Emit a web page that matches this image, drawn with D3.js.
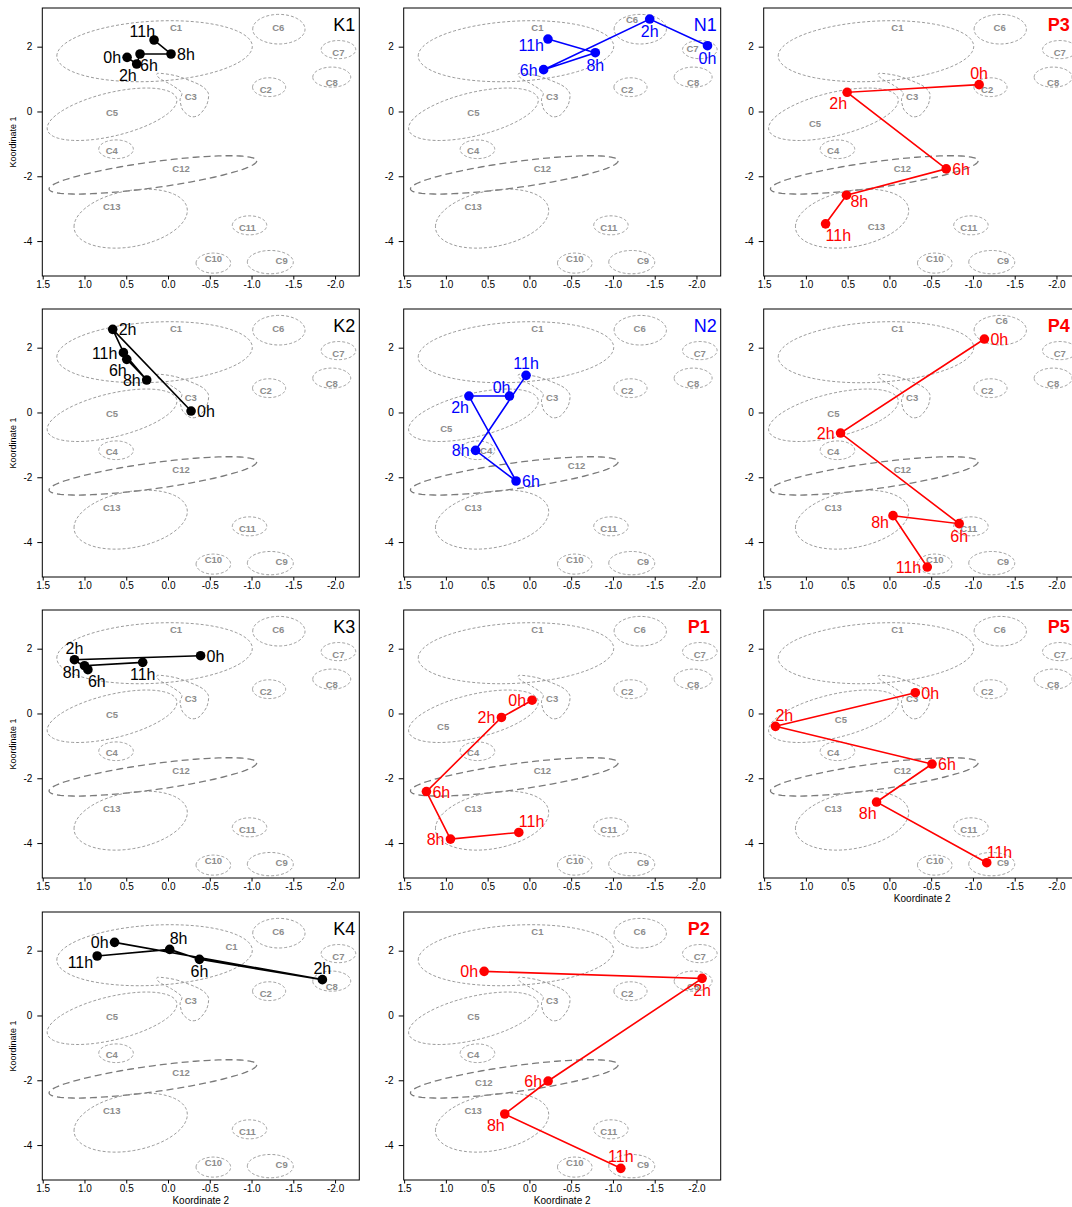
<!DOCTYPE html>
<html>
<head>
<meta charset="utf-8">
<script src="https://cdn.jsdelivr.net/npm/d3@7"></script>
<style>
  body { margin: 0; background: #fff; }
  svg { display: block; }
  text { font-family: "Liberation Sans", Arial, Helvetica, sans-serif; }
</style>
</head>
<body>
<svg id="chart" width="1072" height="1207"></svg>
<script>
// ---- Cluster regions in the MDS plane (x = Koordinate 2, y = Koordinate 1) ----
// Each region: centre plus two half-axis vectors (u, v) in data units.
const clusterNames = ["C1", "C2", "C4", "C5", "C6", "C7", "C8", "C9", "C10", "C11", "C12", "C13"];
const clusterCx    = [0.161, -1.21, 0.622, 0.670, -1.327, -2.04, -1.96, -1.225, -0.543, -0.976, 0.181, 0.447];
const clusterCy    = [1.86, 0.75, -1.166, -0.086, 2.54, 1.91, 1.06, -4.65, -4.68, -3.514, -1.957, -3.308];
const clusterUx    = [1.17, 0.198, 0.207, -0.774, 0.313, 0.207, 0.227, 0.275, 0.207, 0.206, -1.243, 0.678];
const clusterUy    = [-0.15, 0, 0, 0.483, 0, 0, 0, 0, 0, 0, 0.432, -0.25];
const clusterVx    = [0, 0, 0, 0.061, 0, 0, 0, 0, 0, 0, 0, 0];
const clusterVy    = [0.93, 0.29, 0.288, 0.650, 0.457, 0.28, 0.31, 0.36, 0.31, 0.293, -0.404, 0.875];
const clusterLabelX = [-0.096, -1.17, 0.674, 0.67, -1.32, -2.04, -1.96, -1.36, -0.543, -0.95, -0.156, 0.674];
const clusterLabelY = [2.60, 0.68, -1.217, -0.03, 2.60, 1.83, 0.89, -4.61, -4.53, -3.58, -1.75, -2.95];

// C3 is an irregular region, given as an outline
const c3OutlineX = [0.123, -0.104, -0.383, -0.483, -0.463, -0.372, -0.272, -0.176, -0.144, -0.164, -0.044, 0.103];
const c3OutlineY = [1.178, 1.096, 0.818, 0.561, 0.201, -0.107, -0.158, 0.047, 0.356, 0.582, 0.818, 1.024];
const c3LabelX = -0.272, c3LabelY = 0.458;

// Per-panel relocated region labels
const overridePanel   = ["N1", "N1", "N2", "N2", "N2", "P1", "P2", "P3", "P3", "P4", "P5", "K4"];
const overrideCluster = ["C6", "C7", "C5", "C12", "C4", "C5", "C12", "C5", "C13", "C6", "C5", "C1"];
const overrideX       = [-1.229, -1.952, 0.995, -0.564, 0.518, 1.033, 0.546, 0.891, 0.156, -1.344, 0.581, -0.76];
const overrideY       = [2.82, 1.93, -0.5, -1.632, -1.19, -0.41, -2.064, -0.384, -3.55, 2.82, -0.19, 2.11];

// ---- Trajectories: positions at 0h, 2h, 6h, 8h, 11h ----
const timeLabels = ["0h", "2h", "6h", "8h", "11h"];

const k1X = [0.490, 0.375, 0.335, -0.036, 0.167];
const k1Y = [1.671, 1.466, 1.774, 1.774, 2.206];
const k2X = [-0.276, 0.662, 0.494, 0.255, 0.534];
const k2Y = [0.045, 2.566, 1.640, 1.002, 1.846];
const k3X = [-0.390, 1.120, 0.959, 1.000, 0.303];
const k3Y = [1.784, 1.660, 1.352, 1.475, 1.578];
const k4X = [0.640, -1.848, -0.376, -0.020, 0.848];
const k4Y = [2.257, 1.106, 1.733, 2.040, 1.836];
const n1X = [-2.132, -1.440, -0.170, -0.789, -0.222];
const n1Y = [2.031, 2.853, 1.291, 1.815, 2.236];
const n2X = [0.239, 0.724, 0.160, 0.645, 0.040];
const n2Y = [0.508, 0.508, -2.115, -1.169, 1.146];
const p1X = [-0.032, 0.335, 1.233, 0.945, 0.127];
const p1Y = [0.410, -0.123, -2.410, -3.877, -3.672];
const p2X = [0.542, -2.067, -0.224, 0.295, -1.094];
const p2Y = [1.362, 1.146, -2.023, -3.041, -4.718];
const p3X = [-1.074, 0.506, -0.680, 0.514, 0.764];
const p3Y = [0.828, 0.592, -1.772, -2.584, -3.468];
const p4X = [-1.137, 0.585, -0.835, -0.043, -0.453];
const p4Y = [2.267, -0.634, -3.432, -3.185, -4.770];
const p5X = [-0.310, 1.364, -0.510, 0.154, -1.165];
const p5Y = [0.642, -0.397, -1.560, -2.733, -4.605];

// Where each time label sits relative to its point
const k1Lab = ["l", "bl", "br", "r", "al"];
const k2Lab = ["r", "r", "bl", "l", "l"];
const k3Lab = ["r", "a", "br", "lb", "b"];
const k4Lab = ["l", "a", "b", "ar", "lb"];
const n1Lab = ["b", "b", "l", "b", "lb"];
const n2Lab = ["al", "bl", "r", "l", "a"];
const p1Lab = ["l", "l", "r", "l", "ar"];
const p2Lab = ["l", "b", "l", "bl", "a"];
const p3Lab = ["a", "bl", "r", "rb", "br"];
const p4Lab = ["r", "l", "b", "lb", "l"];
const p5Lab = ["r", "ar", "r", "bl", "ar"];

// Panel order, row by row
const panelNames = ["K1", "N1", "P3", "K2", "N2", "P4", "K3", "P1", "P5", "K4", "P2"];
const panelSeries = {
  K1: [k1X, k1Y, k1Lab], K2: [k2X, k2Y, k2Lab], K3: [k3X, k3Y, k3Lab], K4: [k4X, k4Y, k4Lab],
  N1: [n1X, n1Y, n1Lab], N2: [n2X, n2Y, n2Lab],
  P1: [p1X, p1Y, p1Lab], P2: [p2X, p2Y, p2Lab], P3: [p3X, p3Y, p3Lab], P4: [p4X, p4Y, p4Lab], P5: [p5X, p5Y, p5Lab]
};

const xTicks = [1.5, 1.0, 0.5, 0.0, -0.5, -1.0, -1.5, -2.0];
const yTicks = [2, 0, -2, -4];

// ---- Layout ----
const colX = [42.3, 403.7, 763.7];
const rowY = [8, 309, 610, 912];
const W = 317, H = 268;

const x = d3.scaleLinear().domain([1.505, -2.29]).range([0, W]);
const y = d3.scaleLinear().domain([3.194, -5.078]).range([0, H]);

const groupColor = { K: "#000000", N: "#0000ff", P: "#ff0000" };

const labelPlacement = {
  l:  ["end",    -6,   6],
  r:  ["start",   6,   6],
  a:  ["middle",  0,  -6],
  b:  ["middle",  0,  18],
  al: ["end",     1,  -3],
  ar: ["start",   0,  -5],
  bl: ["end",     0,  17],
  br: ["start",   0,  17],
  lb: ["end",    -4,  12],
  rb: ["start",   4,  12]
};

const svg = d3.select("#chart");
svg.append("rect").attr("width", 1072).attr("height", 1207).attr("fill", "#fff");

const line = d3.line().x(d => x(d[0])).y(d => y(d[1]));
const closedLine = d3.line().x(d => x(d[0])).y(d => y(d[1])).curve(d3.curveLinearClosed);
const smoothClosed = d3.line().x(d => x(d[0])).y(d => y(d[1])).curve(d3.curveCardinalClosed.tension(0.2));

function ellipsePoints(i) {
  const pts = [];
  for (let k = 0; k < 120; k++) {
    const t = (k / 120) * 2 * Math.PI;
    pts.push([
      clusterCx[i] + clusterUx[i] * Math.cos(t) + clusterVx[i] * Math.sin(t),
      clusterCy[i] + clusterUy[i] * Math.cos(t) + clusterVy[i] * Math.sin(t)
    ]);
  }
  return pts;
}

panelNames.forEach((name, idx) => {
  const row = Math.floor(idx / 3), col = idx % 3;
  const g = svg.append("g").attr("transform", `translate(${colX[col]},${rowY[row]})`);
  const color = groupColor[name[0]];
  const [sx, sy, sl] = panelSeries[name];

  // Axes
  const xa = g.append("g").attr("transform", `translate(0,${H})`)
    .call(d3.axisBottom(x).tickValues(xTicks).tickSize(3.5).tickPadding(1.5)
      .tickFormat(v => v.toFixed(1)));
  const ya = g.append("g")
    .call(d3.axisLeft(y).tickValues(yTicks).tickSize(5).tickPadding(5)
      .tickFormat(v => String(v)));
  [xa, ya].forEach(a => {
    a.select(".domain").remove();
    a.selectAll("line").attr("stroke", "#000");
    a.selectAll("text").attr("fill", "#000").attr("font-size", 10)
      .attr("font-family", "'Liberation Sans', Arial, sans-serif");
  });

  // Cluster regions
  const regions = g.append("g");
  clusterNames.forEach((c, i) => {
    const long = c === "C12";
    regions.append("path")
      .attr("d", closedLine(ellipsePoints(i)))
      .attr("fill", "none")
      .attr("stroke", long ? "#7a7a7a" : "#8e8e8e")
      .attr("stroke-width", long ? 1.3 : 0.9)
      .attr("stroke-dasharray", long ? "7,4" : "3,2");
  });
  regions.append("path")
    .attr("d", smoothClosed(c3OutlineX.map((v, i) => [v, c3OutlineY[i]])))
    .attr("fill", "none").attr("stroke", "#8e8e8e")
    .attr("stroke-width", 0.9).attr("stroke-dasharray", "3,2");

  // Region labels
  const labels = clusterNames.map((c, i) => ({ c, lx: clusterLabelX[i], ly: clusterLabelY[i] }));
  labels.push({ c: "C3", lx: c3LabelX, ly: c3LabelY });
  overridePanel.forEach((p, k) => {
    if (p !== name) return;
    const lab = labels.find(l => l.c === overrideCluster[k]);
    lab.lx = overrideX[k]; lab.ly = overrideY[k];
  });
  regions.selectAll("text.cl").data(labels).join("text")
    .attr("class", "cl")
    .attr("x", d => x(d.lx)).attr("y", d => y(d.ly)).attr("dy", "0.35em")
    .attr("text-anchor", "middle")
    .attr("font-size", 9.5).attr("font-weight", "bold").attr("fill", "#8c8c8c")
    .text(d => d.c);

  // Trajectory
  const pts = sx.map((v, i) => [v, sy[i]]);
  g.append("path").attr("d", line(pts))
    .attr("fill", "none").attr("stroke", color).attr("stroke-width", 1.6);
  g.selectAll("circle.pt").data(pts).join("circle")
    .attr("class", "pt")
    .attr("cx", d => x(d[0])).attr("cy", d => y(d[1])).attr("r", 4.8)
    .attr("fill", color);
  g.selectAll("text.tl").data(pts).join("text")
    .attr("class", "tl")
    .attr("x", (d, i) => x(d[0]) + labelPlacement[sl[i]][1])
    .attr("y", (d, i) => y(d[1]) + labelPlacement[sl[i]][2])
    .attr("text-anchor", (d, i) => labelPlacement[sl[i]][0])
    .attr("font-size", 16).attr("fill", color)
    .text((d, i) => timeLabels[i]);

  // Frame
  g.append("rect").attr("width", W).attr("height", H)
    .attr("fill", "none").attr("stroke", "#000").attr("stroke-width", 1);

  // Panel title
  const isP = name[0] === "P";
  g.append("text")
    .attr("x", W - (isP ? 11 : 4)).attr("y", 23)
    .attr("text-anchor", "end")
    .attr("font-size", 18).attr("font-weight", isP ? "bold" : "normal")
    .attr("fill", color).text(name);

  // Axis titles
  if (col === 0) {
    g.append("text")
      .attr("transform", `translate(${16 - colX[0]},${H / 2}) rotate(-90)`)
      .attr("text-anchor", "middle").attr("font-size", 9).attr("fill", "#000")
      .text("Koordinate 1");
  }
  const belowEmpty = row === 3 || (row === 2 && col === 2);
  if (belowEmpty) {
    g.append("text")
      .attr("x", W / 2).attr("y", H + 24)
      .attr("text-anchor", "middle").attr("font-size", 10).attr("fill", "#000")
      .text("Koordinate 2");
  }
});
</script>
</body>
</html>
